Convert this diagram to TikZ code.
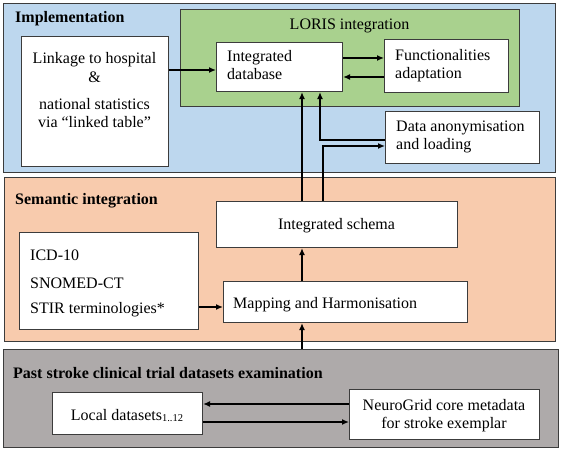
\documentclass[tikz,border=0pt]{standalone}
\usepackage{fontspec}
\setmainfont{Liberation Serif}
\usetikzlibrary{arrows.meta}
\definecolor{pblue}{HTML}{BDD7EE}
\definecolor{pgreen}{HTML}{A9D18E}
\definecolor{porange}{HTML}{F8CBAD}
\definecolor{pgray}{HTML}{AEAAAA}
\definecolor{edge}{HTML}{3C3C3C}
\begin{document}
\begin{tikzpicture}[x=1bp,y=-1bp,
  font=\fontsize{16bp}{18bp}\selectfont,
  panel/.style={draw=edge, line width=1.3bp, anchor=north west, inner sep=0pt},
  wbox/.style={draw=edge, fill=white, line width=1.1bp, anchor=north west, inner sep=0pt},
  ctxt/.style={anchor=base, inner sep=0pt},
  ltxt/.style={anchor=base west, inner sep=0pt},
  ttl/.style={anchor=base west, inner sep=0pt, font=\fontsize{16bp}{18bp}\selectfont\bfseries},
  arr/.style={line width=1.3bp, -{Latex[length=7bp,width=6bp]}}]
\useasboundingbox (0,0) rectangle (561,450);
% panels
\node[panel, fill=pblue, minimum width=552bp, minimum height=169bp] (impl) at (3,3) {};
\node[panel, fill=pgreen, minimum width=339bp, minimum height=97bp] (loris) at (180,9) {};
\node[panel, fill=porange, minimum width=551bp, minimum height=164bp] (sem) at (4,177) {};
\node[panel, fill=pgray, minimum width=555bp, minimum height=98bp] (past) at (3,349) {};
% boxes
\node[wbox, minimum width=147bp, minimum height=130bp] (link) at (21,36) {};
\node[wbox, minimum width=126bp, minimum height=49bp] (idb) at (216,42) {};
\node[wbox, minimum width=124bp, minimum height=53bp] (func) at (384,39) {};
\node[wbox, minimum width=154bp, minimum height=52bp] (anon) at (385,111) {};
\node[wbox, minimum width=179bp, minimum height=97bp] (terms) at (19,232) {};
\node[wbox, minimum width=241bp, minimum height=46bp] (schema) at (216,201) {};
\node[wbox, minimum width=244bp, minimum height=41bp] (map) at (223,281) {};
\node[wbox, minimum width=150bp, minimum height=42bp] (local) at (52,392) {};
\node[wbox, minimum width=190bp, minimum height=50bp] (neuro) at (349,389) {};
% titles
\node[ttl] (tImpl) at (15,23) {Implementation};
\node[ctxt] (tLoris) at (349.5,30) {LORIS integration};
\node[ttl] (tSem) at (15,205) {Semantic integration};
\node[ttl] (tPast) at (13,378) {Past stroke clinical trial datasets examination};
% box texts
\node[ctxt] (tL1) at (94.5,64) {Linkage to hospital};
\node[ctxt] (tL2) at (94.5,83) {\&};
\node[ctxt] (tL3) at (94.5,110) {national statistics};
\node[ctxt] (tL4) at (94.5,128) {via “linked table”};
\node[ltxt] (tI1) at (227,62) {Integrated};
\node[ltxt] (tI2) at (227,80) {database};
\node[ltxt] (tF1) at (395,61) {Functionalities};
\node[ltxt] (tF2) at (395,79) {adaptation};
\node[ltxt] (tA1) at (396,132) {Data anonymisation};
\node[ltxt] (tA2) at (396,150) {and loading};
\node[ctxt] (tS) at (336.5,230) {Integrated schema};
\node[ltxt] (tT1) at (30,261) {ICD-10};
\node[ltxt] (tT2) at (30,288) {SNOMED-CT};
\node[ltxt] (tT3) at (30,313) {STIR terminologies*};
\node[ltxt] (tM) at (233,308) {Mapping and Harmonisation};
\node[ctxt] (tLo) at (127,420) {Local datasets{\fontsize{10.5bp}{12bp}\selectfont\raisebox{-1.5bp}{1..12}}};
\node[ctxt] (tN1) at (444,410) {NeuroGrid core metadata};
\node[ctxt] (tN2) at (444,428) {for stroke exemplar};
% connectors
\draw[arr] (link.east |- 0,70) -- (idb.west |- 0,70);
\draw[arr] (idb.east |- 0,58) -- (func.west |- 0,58);
\draw[arr] (func.west |- 0,77) -- (idb.east |- 0,77);
\draw[arr] (schema.north -| 302,0) -- (idb.south -| 302,0);
\draw[arr] (schema.north -| 323,0) |- (anon.west |- 0,146);
\draw[arr] (anon.west |- 0,140) -| (idb.south -| 320,0);
\draw[arr] (terms.east |- 0,307) -- (map.west |- 0,307);
\draw[arr] (map.north -| 302,0) -- (schema.south -| 302,0);
\draw[arr] (past.north -| 302,0) -- (map.south -| 302,0);
\draw[arr] (neuro.west |- 0,404) -- (local.east |- 0,404);
\draw[arr] (local.east |- 0,422) -- (neuro.west |- 0,422);
\end{tikzpicture}
\end{document}
